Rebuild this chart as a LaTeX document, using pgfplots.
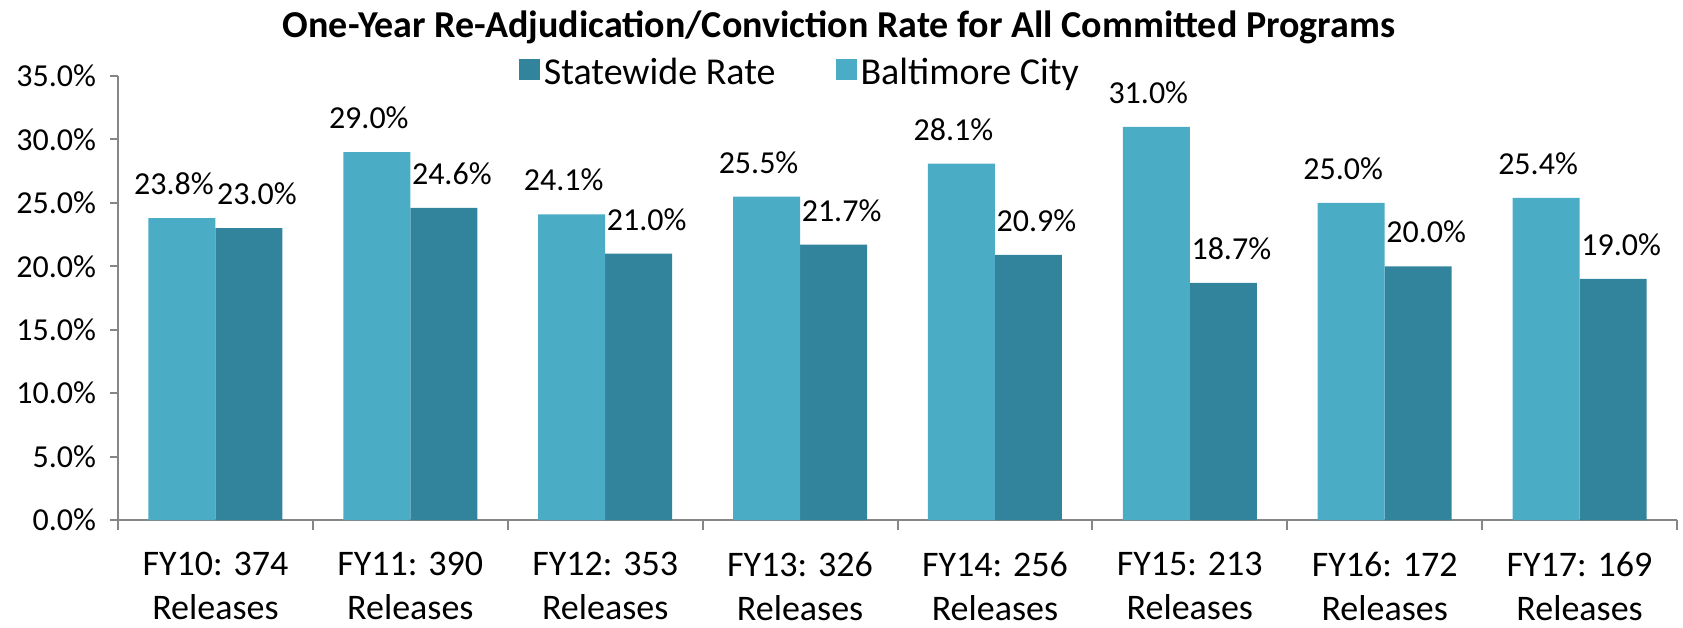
\documentclass[border=0pt]{standalone}
\usepackage{fontspec}
\setmainfont{Carlito}
\usepackage{pgfplots}
\pgfplotsset{compat=1.18}
\definecolor{cityblue}{HTML}{4BACC6}
\definecolor{statewide}{HTML}{31849B}
\definecolor{axisgray}{HTML}{868686}

\begin{document}
\begin{tikzpicture}
\begin{axis}[
  scale only axis,
  width=779.5pt, height=222pt,
  ybar,
  bar width=0.344,
  ymin=0, ymax=35,
  xmin=-0.5, xmax=7.5,
  ytick={0,5,...,35},
  xtick={0,...,7},
  xticklabels={FY10: 374\\Releases, FY11: 390\\Releases, FY12: 353\\Releases,
    FY13: 326\\Releases, FY14: 256\\Releases, FY15: 213\\Releases,
    FY16: 172\\Releases, FY17: 169\\Releases},
  minor xtick={-0.5,0.5,...,7.5},
  axis x line*=bottom, axis y line*=left,
  axis line style={axisgray, line width=1pt},
  tick align=outside,
  major x tick style={draw=none},
  major tick length=4pt,
  minor tick length=5pt,
  tick style={axisgray, line width=1pt},
  /pgf/number format/assume math mode=true,
  yticklabel={\pgfmathprintnumber[fixed,fixed zerofill,precision=1]{\tick}\%},
  y tick label style={font=\fontsize{16}{19}\selectfont, text=black, xshift=-3.5pt},
  x tick label style={font=\fontsize{18}{22}\selectfont, align=center, text=black, yshift=-8.5pt},
  nodes near coords={\pgfmathprintnumber[fixed,fixed zerofill,precision=1]{\pgfplotspointmeta}\%},
  nodes near coords style={font=\fontsize{16}{19}\selectfont, text=black, anchor=south, yshift=8pt},
  legend style={at={(0.438,1.007)}, anchor=center, draw=none, fill=none,
    legend columns=2, font=\fontsize{19}{23}\selectfont,
    /tikz/every even column/.append style={column sep=28pt}},
  legend image code/.code={\fill[#1] (0pt,-3.5pt) rectangle (10.5pt,7pt);},
  clip=false,
]
\addplot[fill=statewide, draw=none, bar shift=0.172,
  every node near coord/.append style={xshift=4pt}] coordinates {
  (0,23.0) (1,24.6) (2,21.0) (3,21.7) (4,20.9) (5,18.7) (6,20.0) (7,19.0)
};
\addlegendentry{Statewide Rate}
\addplot[fill=cityblue, draw=none, bar shift=-0.172,
  every node near coord/.append style={xshift=-4pt}] coordinates {
  (0,23.8) (1,29.0) (2,24.1) (3,25.5) (4,28.1) (5,31.0) (6,25.0) (7,25.4)
};
\addlegendentry{Baltimore City}

\node[font=\bfseries\fontsize{19}{23}\selectfont] at (rel axis cs:0.4625,1.110)
  {One-Year Re-Adjudication/Conviction Rate for All Committed Programs};
\coordinate (bbll) at (rel axis cs:-0.0757,-0.2432);
\coordinate (bbur) at (rel axis cs:1.00385,1.1712);
\end{axis}
\pgfresetboundingbox
\useasboundingbox (bbll) rectangle (bbur);
\end{tikzpicture}
\end{document}
